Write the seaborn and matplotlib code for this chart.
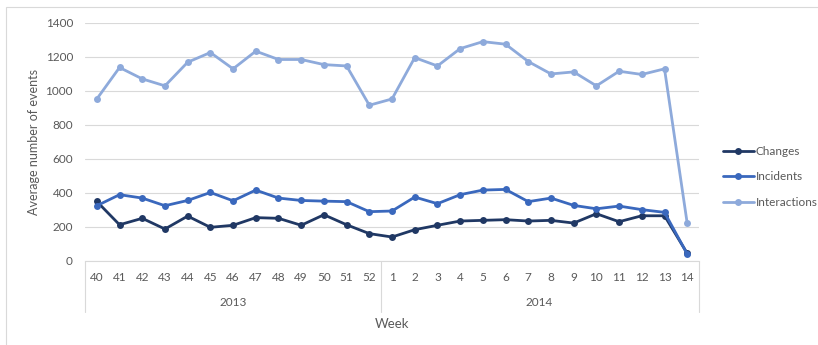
import matplotlib
matplotlib.use("Agg")
import matplotlib.pyplot as plt
import matplotlib.patches as mpatches
import matplotlib.transforms as mtransforms
import numpy as np
import pandas as pd
import seaborn as sns

# Weekly averages, week 40 of 2013 through week 14 of 2014
weeks = ["40", "41", "42", "43", "44", "45", "46", "47", "48", "49", "50", "51", "52",
         "1", "2", "3", "4", "5", "6", "7", "8", "9", "10", "11", "12", "13", "14"]
years = ["2013", "2014"]
weeks_per_year = [13, 14]

changes = [350, 213, 251, 188, 264, 198, 210, 255, 251, 210, 272, 213, 161,
           141, 184, 210, 235, 239, 243, 235, 239, 223, 278, 231, 266, 266, 45]
incidents = [325, 390, 370, 325, 356, 403, 354, 417, 370, 356, 352, 349, 290,
             294, 376, 337, 390, 417, 421, 349, 370, 327, 307, 323, 302, 286, 41]
interactions = [953, 1138, 1071, 1030, 1169, 1226, 1130, 1234, 1185, 1185, 1155, 1147, 916,
                953, 1196, 1147, 1249, 1290, 1275, 1173, 1100, 1112, 1030, 1116, 1097, 1130, 221]

series_names = ["Changes", "Incidents", "Interactions"]
series_colors = ["#203864", "#3a68bd", "#8eaadb"]

pos = np.arange(len(weeks))
df = pd.DataFrame({
    "pos": np.tile(pos, 3),
    "value": changes + incidents + interactions,
    "series": np.repeat(series_names, len(weeks)),
})

sns.set_theme(style="white")
plt.rcParams["font.family"] = ["Lato", "DejaVu Sans"]
text_color = "#595959"
grid_color = "#d9d9d9"
lw = 2.0
ms = 5

fig = plt.figure(figsize=(8.18, 3.45), dpi=100)
ax = fig.add_axes([0.1045, 0.2435, 0.7495, 0.69])

sns.lineplot(data=df, x="pos", y="value", hue="series", hue_order=series_names,
             palette=dict(zip(series_names, series_colors)), marker="o",
             markersize=ms, markeredgewidth=0, linewidth=lw, ax=ax, legend=False,
             sort=False)

ax.set_xlim(-0.5, len(weeks) - 0.5)
ax.set_ylim(0, 1400)
ax.set_yticks(np.arange(0, 1401, 200))
ax.yaxis.grid(True, color=grid_color, linewidth=0.8)
ax.set_axisbelow(True)
for s in ["top", "right", "left"]:
    ax.spines[s].set_visible(False)
ax.spines["bottom"].set_color(grid_color)
ax.spines["bottom"].set_linewidth(0.8)

ax.set_xticks(pos)
ax.set_xticklabels(weeks)
ax.tick_params(axis="both", length=0, labelsize=8.5, colors=text_color)
ax.tick_params(axis="x", pad=8)
ax.tick_params(axis="y", pad=9)
ax.set_xlabel("")
ax.set_ylabel("Average number of events", fontsize=9, color=text_color, labelpad=4)

# Two-level category axis: year groups with separators
trans = mtransforms.blended_transform_factory(ax.transData, ax.transAxes)
bounds = np.concatenate([[0], np.cumsum(weeks_per_year)]) - 0.5
for b in bounds:
    ax.plot([b, b], [0, -0.215], transform=trans, color=grid_color,
            linewidth=0.8, clip_on=False)
for i, yr in enumerate(years):
    center = (bounds[i] + bounds[i + 1]) / 2
    ax.text(center, -0.175, yr, transform=trans, ha="center", va="center",
            fontsize=8.5, color=text_color)
ax.text(0.5, -0.265, "Week", transform=ax.transAxes, ha="center", va="center",
        fontsize=9.5, color=text_color)

# Legend
handles = [plt.Line2D([], [], color=c, linewidth=lw, marker="o", markersize=ms,
                      markeredgewidth=0) for c in series_colors]
leg = fig.legend(handles, series_names, loc="center left",
                 bbox_to_anchor=(0.878, 0.487), frameon=False, fontsize=8.5,
                 handlelength=2.6, handletextpad=0.15, labelspacing=1.25,
                 borderaxespad=0)
for t in leg.get_texts():
    t.set_color(text_color)

# Outer chart frame
fig.patches.append(mpatches.Rectangle((6 / 818, -0.05), 1.0, 1.0 - 7 / 345 + 0.05,
                                      transform=fig.transFigure, fill=False,
                                      edgecolor=grid_color, linewidth=0.8))

fig.savefig("out.png", dpi=100)
